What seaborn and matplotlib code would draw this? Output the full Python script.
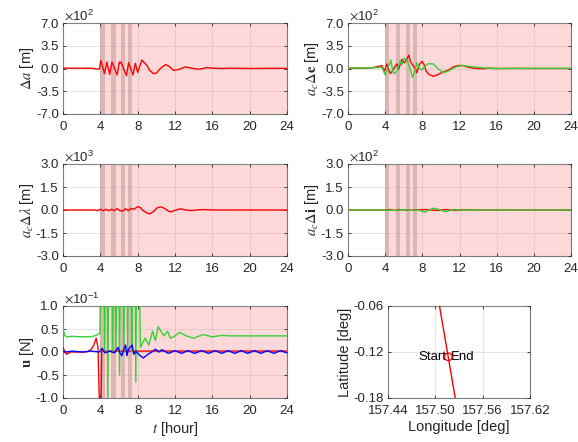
import numpy as np
import pandas as pd
import matplotlib
matplotlib.use("Agg")
import matplotlib.pyplot as plt
import seaborn as sns
from matplotlib.ticker import FormatStrFormatter

sns.set_theme(style="white")
plt.rcParams['font.family'] = ['Liberation Sans', 'DejaVu Sans']
plt.rcParams['mathtext.fontset'] = 'stix'
plt.rcParams['axes.unicode_minus'] = False

# ---------------- data ----------------
# Delta a (x1e2 m)
t_da = [0, 0.3, 0.6, 1.0, 2.0, 3.0, 3.4, 3.7, 3.9, 4.05, 4.45, 4.7, 5.0, 5.25, 5.8, 6.03, 6.12,
        6.2, 6.8, 7.03, 7.5, 7.75, 8.0, 8.45, 8.7, 9.0, 9.3, 9.7, 10.0, 10.5, 11.0, 11.4, 11.85,
        12.4, 13.1, 13.8, 14.4, 14.9, 15.4, 16.0, 17.0, 18.0, 20.0, 22.0, 24.0]
da = [0.0, 0.08, 0.05, 0.05, 0.05, 0.03, 0.0, -0.12, -0.05, 1.25, -0.8, 1.0, -0.9, 1.0, -1.0, 1.0, 0.85,
      1.0, -1.1, 0.9, -1.0, 0.8, -0.6, 1.3, 0.9, 0.45, -0.3, -0.8, -0.7, 0.1, 0.6, 0.3, -0.3,
      -0.15, 0.25, 0.05, -0.1, -0.05, 0.15, 0.05, 0.0, 0.05, 0.0, 0.03, 0.02]

# a_c Delta e (x1e2 m), two components
t_de1 = [0, 0.3, 1.0, 2.0, 2.75, 3.65, 3.9, 4.18, 4.54, 4.79, 5.08, 5.26, 5.47, 5.79, 6.04, 6.33,
         6.54, 6.75, 6.97, 7.22, 7.4, 7.68, 7.97, 8.19, 8.4, 8.72, 9.18, 9.72, 10.25, 10.79, 11.33,
         11.86, 12.4, 12.94, 13.47, 14.5, 15.1, 16.0, 18.0, 20.0, 24.0]
de1 = [-0.1, 0.05, 0.05, 0.05, 0.15, 0.45, -0.4, 0.7, -0.75, -0.4, 0.35, 0.7, -0.05, 1.4, 0.85, 1.4,
       2.05, 1.0, 0.5, 0.05, -0.65, 0.6, 1.1, 0.6, -0.4, -0.9, -1.2, -0.9, -0.55, -0.25, 0.25,
       0.45, 0.45, 0.2, 0.05, -0.05, 0.05, 0.0, 0.02, 0.0, 0.0]
t_de2 = [0, 0.3, 1.0, 2.0, 2.75, 3.65, 4.0, 4.36, 4.61, 4.83, 5.0, 5.33, 5.61, 5.79, 6.04, 6.33,
         6.68, 6.93, 7.22, 7.4, 7.65, 7.93, 8.29, 8.65, 9.18, 9.72, 10.25, 10.79, 11.33, 11.86,
         12.4, 13.47, 14.5, 15.6, 18.0, 24.0]
de2 = [0.0, 0.1, 0.08, 0.08, 0.1, 0.2, -1.0, 0.35, 1.3, -0.5, -0.8, -0.25, 1.1, 0.6, 1.6, 1.3,
       0.1, -1.35, -0.4, 0.9, 0.1, -0.25, 0.35, 0.75, 0.7, -0.05, -0.65, -0.4, 0.05, 0.35,
       0.45, 0.25, 0.1, 0.0, 0.02, 0.02]

# a_c Delta lambda (x1e3 m)
t_dl = [0, 3.5, 3.7, 4.0, 4.3, 4.6, 4.9, 5.2, 5.5, 5.8, 6.1, 6.4, 6.7, 7.0, 7.3, 7.6, 8.0, 8.3,
        8.6, 9.0, 9.3, 9.7, 10.1, 10.5, 10.9, 11.3, 11.6, 12.0, 12.6, 13.2, 13.8, 14.6, 15.2, 16.0, 24.0]
dl = [0.0, 0.0, -0.05, 0.05, -0.05, 0.05, -0.05, 0.05, -0.04, 0.1, -0.05, -0.06, 0.08, -0.04, 0.1,
      0.05, 0.22, 0.15, -0.05, -0.2, -0.25, -0.1, 0.15, 0.2, 0.1, -0.08, -0.12, -0.02, 0.08, 0.0,
      -0.04, 0.02, 0.03, 0.0, 0.0]

# a_c Delta i (x1e2 m), two components
t_di1 = [0, 4.0, 4.5, 5.0, 5.5, 6.5, 7.5, 8.5, 9.5, 10.5, 11.5, 12.5, 14.0, 24.0]
di1 = [0.0, 0.0, 0.03, -0.03, 0.03, -0.02, 0.02, 0.03, -0.03, 0.03, -0.02, 0.02, 0.0, 0.0]
t_di2 = [0, 4.0, 5.0, 6.0, 7.0, 7.6, 8.0, 8.3, 8.7, 9.2, 9.7, 10.3, 10.6, 11.0, 11.5, 12.5, 24.0]
di2 = [0.0, 0.0, -0.03, 0.02, -0.03, 0.0, -0.1, -0.15, 0.0, 0.12, 0.05, -0.08, -0.1, -0.02, 0.03, 0.0, 0.0]

# control u (x1e-1 N), three components
t_u1 = [0, 0.2, 0.4, 0.8, 2.5, 3.0, 3.3, 3.55, 3.75, 3.95, 4.05, 4.15, 6.0, 10.0, 24.0]
u1 = [0.1, 0.0, -0.05, 0.0, 0.0, 0.05, 0.15, 0.3, 0.1, -1.5, -1.5, 0.02, 0.02, 0.02, 0.02]
t_u2 = [0, 0.2, 0.4, 1.0, 2.0, 3.0, 3.5, 3.95, 4.03, 4.40, 4.47, 4.55, 4.72, 4.80, 4.88, 5.25,
        5.32, 5.40, 5.60, 5.68, 5.76, 5.98, 6.06, 6.14, 6.45, 6.52, 6.60, 6.85, 6.92, 7.00, 7.30,
        7.37, 7.44, 7.72, 7.80, 7.88, 8.15, 8.30, 8.80, 9.20, 9.60, 9.90, 10.20, 10.50, 10.80,
        11.20, 11.50, 12.0, 12.5, 13.2, 14.0, 15.0, 16.0, 17.0, 18.0, 20.0, 22.0, 24.0]
u2 = [0.5, 0.36, 0.33, 0.34, 0.33, 0.33, 0.36, 0.40, 2.0, 2.0, 0.0, 2.0, 2.0, -1.2, 2.0, 2.0,
      0.0, 2.0, 2.0, 0.05, 2.0, 2.0, -0.5, 2.0, 2.0, 0.0, 2.0, 2.0, 0.05, 2.0, 2.0,
      0.0, 2.0, 2.0, -0.65, 2.0, 2.0, 0.10, 0.30, 0.15, 0.45, 0.25, 0.55, 0.45, 0.35,
      0.45, 0.30, 0.35, 0.43, 0.35, 0.30, 0.38, 0.33, 0.36, 0.35, 0.35, 0.35, 0.35]
t_u3 = [0, 0.3, 1.0, 2.0, 3.0, 3.9, 4.2, 4.5, 5.0, 5.5, 5.9, 6.1, 6.3, 6.5, 6.7, 6.85, 7.0, 7.4,
        7.6, 7.8, 8.1, 8.6, 9.1, 9.5, 9.9, 10.3, 10.6, 11.3, 12.0, 12.7, 13.4, 14.1, 14.85, 15.6,
        16.3, 17.0, 17.7, 18.4, 19.1, 19.8, 20.5, 21.2, 21.9, 22.6, 23.3, 24.0]
u3 = [0.02, 0.0, 0.02, 0.0, 0.02, 0.0, 0.08, -0.02, 0.02, -0.02, 0.1, -0.02, -0.08, 0.05, 0.15,
      -0.08, 0.05, 0.15, -0.05, 0.02, -0.05, -0.13, -0.05, 0.0, 0.06, 0.0, 0.05, -0.03, 0.03,
      -0.03, 0.03, -0.03, 0.03, -0.03, 0.03, -0.03, 0.03, -0.03, 0.03, -0.03, 0.03, -0.03, 0.03,
      -0.03, 0.03, -0.02]

# ground track
lon = [157.5028, 157.5277]
lat = [-0.045, -0.195]
marker_lon = [157.5165]
marker_lat = [-0.1263]

# shaded intervals (hours)
pink_span = (4.0, 24.0)
gray_spans = [(4.0, 4.45), (5.18, 5.63), (6.2, 6.65), (6.95, 7.4)]
edge_span = (0.0, 0.15)

# ---------------- figure ----------------
W, H = 578, 442
fig = plt.figure(figsize=(W / 100, H / 100), dpi=100)

def rect(x0, y0, x1, y1):
    return [x0 / W, 1 - y1 / H, (x1 - x0) / W, (y1 - y0) / H]

TICK = 9.5
LAB = 10.5
RED = '#ff0000'
GREEN = '#33d133'
BLUE = '#0000ff'
SPINE = '#7a7a7a'
TXT = '#262626'

def style(ax):
    for s in ax.spines.values():
        s.set_color(SPINE)
        s.set_linewidth(0.8)
    ax.tick_params(direction='in', length=2.5, width=0.6, colors=TXT,
                   labelsize=TICK, top=True, right=True, bottom=True, left=True)
    ax.tick_params(axis='x', pad=5)
    ax.tick_params(axis='y', pad=3)
    ax.grid(True, color='#9a9a9a', alpha=0.3, lw=0.6, zorder=1)
    ax.set_axisbelow(False)

def spans(ax, edge):
    ax.axvspan(*pink_span, color='#ffd9d9', lw=0, zorder=0.5)
    for a, b in gray_spans:
        ax.axvspan(a, b, color='#7a4a4a', alpha=0.25, lw=0, zorder=0.6)
    if edge:
        ax.axvspan(*edge_span, color='#404040', alpha=0.3, lw=0, zorder=0.6)

def tseries(ax, pairs, lim, ticks, ylabel, expo, edge):
    spans(ax, edge)
    for t, v, c in pairs:
        df = pd.DataFrame({'t': t, 'v': v})
        sns.lineplot(data=df, x='t', y='v', ax=ax, color=c, lw=1.0, estimator=None,
                     sort=False, zorder=3)
    ax.set_xlim(0, 24)
    ax.set_ylim(-lim, lim)
    ax.set_xticks(range(0, 25, 4))
    ax.set_yticks(ticks)
    ax.yaxis.set_major_formatter(FormatStrFormatter('%.1f'))
    ax.set_xlabel('')
    ax.set_ylabel(ylabel, fontsize=LAB, labelpad=0, color=TXT)
    ax.text(0.005, 1.0, r'$\times\mathregular{10^{%s}}$' % expo, transform=ax.transAxes,
            fontsize=TICK, ha='left', va='bottom', color=TXT)
    style(ax)

ax1 = fig.add_axes(rect(63, 23, 287, 114))
tseries(ax1, [(t_da, da, RED)], 7, [-7, -3.5, 0, 3.5, 7], r'$\Delta a$ [m]', '2', True)

ax2 = fig.add_axes(rect(348, 23, 571, 114))
tseries(ax2, [(t_de1, de1, RED), (t_de2, de2, GREEN)], 7, [-7, -3.5, 0, 3.5, 7],
        r'$a_c\Delta\mathbf{e}$ [m]', '2', False)

ax3 = fig.add_axes(rect(63, 164, 287, 256))
tseries(ax3, [(t_dl, dl, RED)], 3, [-3, -1.5, 0, 1.5, 3], r'$a_c\Delta\lambda$ [m]', '3', True)

ax4 = fig.add_axes(rect(348, 164, 571, 256))
tseries(ax4, [(t_di1, di1, RED), (t_di2, di2, GREEN)], 3, [-3, -1.5, 0, 1.5, 3],
        r'$a_c\Delta\mathbf{i}$ [m]', '2', False)

ax5 = fig.add_axes(rect(63, 306, 287, 398))
tseries(ax5, [(t_u1, u1, RED), (t_u2, u2, GREEN), (t_u3, u3, BLUE)], 1,
        [-1, -0.5, 0, 0.5, 1], r'$\mathbf{u}$ [N]', '-1', True)
ax5.set_xlabel(r'$t$ [hour]', fontsize=LAB, labelpad=2, color=TXT)

ax6 = fig.add_axes(rect(388, 306, 530, 398))
sns.lineplot(x=lon, y=lat, ax=ax6, color=RED, lw=1.0, estimator=None, sort=False, zorder=3)
ax6.scatter(marker_lon, marker_lat, s=30, facecolors='none', edgecolors=RED, lw=0.9, zorder=4)
ax6.text(marker_lon[0] - 0.003, marker_lat[0], 'Start', fontsize=TICK, ha='right', va='center', color='black')
ax6.text(marker_lon[0] + 0.003, marker_lat[0], 'End', fontsize=TICK, ha='left', va='center', color='black')
ax6.set_xlim(157.44, 157.62)
ax6.set_ylim(-0.18, -0.06)
ax6.set_xticks([157.44, 157.50, 157.56, 157.62])
ax6.set_yticks([-0.18, -0.12, -0.06])
ax6.xaxis.set_major_formatter(FormatStrFormatter('%.2f'))
ax6.yaxis.set_major_formatter(FormatStrFormatter('%.2f'))
ax6.set_xlabel('Longitude [deg]', fontsize=LAB, labelpad=2, color=TXT)
ax6.set_ylabel('Latitude [deg]', fontsize=LAB, labelpad=1, color=TXT)
style(ax6)

fig.savefig('out.png', dpi=100)
